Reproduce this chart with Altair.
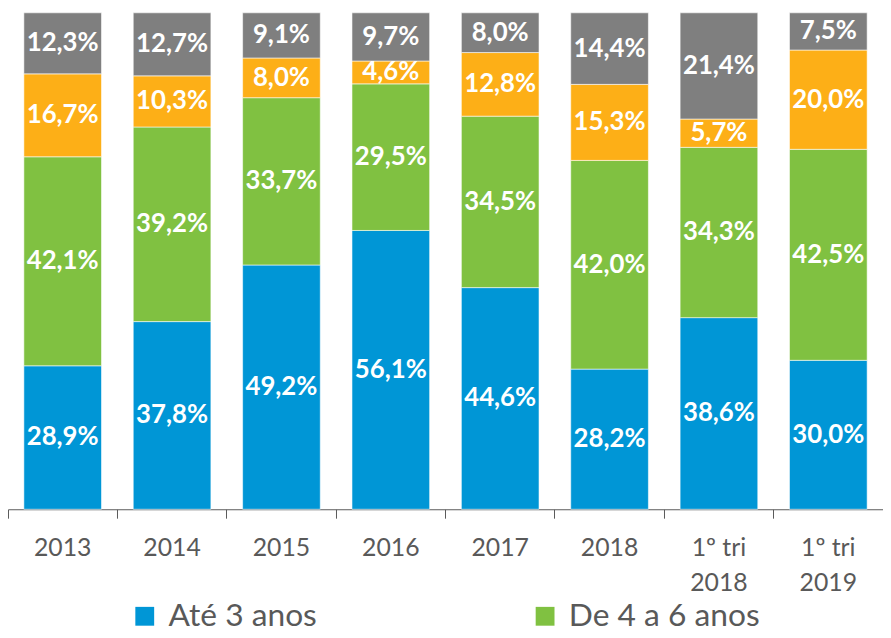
import altair as alt
import pandas as pd

categories = ["2013", "2014", "2015", "2016", "2017", "2018", "1º tri|2018", "1º tri|2019"]
series = ["Até 3 anos", "De 4 a 6 anos", "De 7 a 10 anos", "Mais de 10 anos"]
ate_3 = [28.9, 37.8, 49.2, 56.1, 44.6, 28.2, 38.6, 30.0]
de_4_a_6 = [42.1, 39.2, 33.7, 29.5, 34.5, 42.0, 34.3, 42.5]
de_7_a_10 = [16.7, 10.3, 8.0, 4.6, 12.8, 15.3, 5.7, 20.0]
mais_10 = [12.3, 12.7, 9.1, 9.7, 8.0, 14.4, 21.4, 7.5]
colors = ["#0096D6", "#80C141", "#FDAF17", "#7F7F7F"]

rows = []
for s_i, (name, vals) in enumerate(zip(series, [ate_3, de_4_a_6, de_7_a_10, mais_10])):
    for c, v in zip(categories, vals):
        rows.append({"cat": c, "serie": name, "ord": s_i, "value": v})
df = pd.DataFrame(rows)

base = alt.Chart(df).transform_stack(
    stack="value", groupby=["cat"], sort=[alt.SortField("ord", order="ascending")],
    as_=["y0", "y1"], offset="normalize"
).transform_calculate(
    mid="(datum.y0 + datum.y1) / 2",
    lab="replace(format(datum.value, '.1f'), '.', ',') + '%'"
)

x_enc = alt.X(
    "cat:N", sort=categories, title=None,
    scale=alt.Scale(paddingInner=0, paddingOuter=0),
    axis=alt.Axis(
        bandPosition=0, labelAngle=0, labelAlign="center",
        labelExpr="split(datum.label, '|')",
        labelFont="Lato", labelFontSize=25, labelColor="#595959",
        labelLineHeight=35, labelPadding=18,
        tickSize=9, tickColor="#595959", domainColor="#595959",
        tickWidth=1, domainWidth=1, grid=False,
    ),
)
y_scale = alt.Scale(domain=[0, 1])

bars = base.mark_bar(
    width=alt.RelativeBandSize(0.71), stroke="white", strokeWidth=0.8, strokeOpacity=0.7
).encode(
    x=x_enc,
    y=alt.Y("y0:Q", scale=y_scale, axis=None),
    y2="y1:Q",
    color=alt.Color(
        "serie:N",
        scale=alt.Scale(domain=series, range=colors),
        legend=alt.Legend(
            values=["Até 3 anos", "De 4 a 6 anos"], title=None,
            orient="none", legendX=122, legendY=593, direction="horizontal",
            symbolType="square", symbolSize=361, symbolStrokeWidth=0,
            labelFont="Lato", labelFontSize=32, labelColor="#595959",
            labelOffset=8, columnPadding=214, labelLimit=400,
        ),
    ),
)

texts = base.mark_text(
    font="Lato", fontSize=26, fontWeight="bold", color="white", baseline="middle"
).encode(
    x=alt.X("cat:N", sort=categories),
    y=alt.Y("mid:Q", scale=y_scale),
    text="lab:N",
)

chart = alt.layer(bars, texts).properties(
    width=883, height=501,
    autosize=alt.AutoSizeParams(type="none"),
    padding={"left": 0, "top": 2, "right": 0, "bottom": 119},
).configure_view(stroke=None)

chart.save("out.html", embed_options={"renderer": "svg", "actions": False})
